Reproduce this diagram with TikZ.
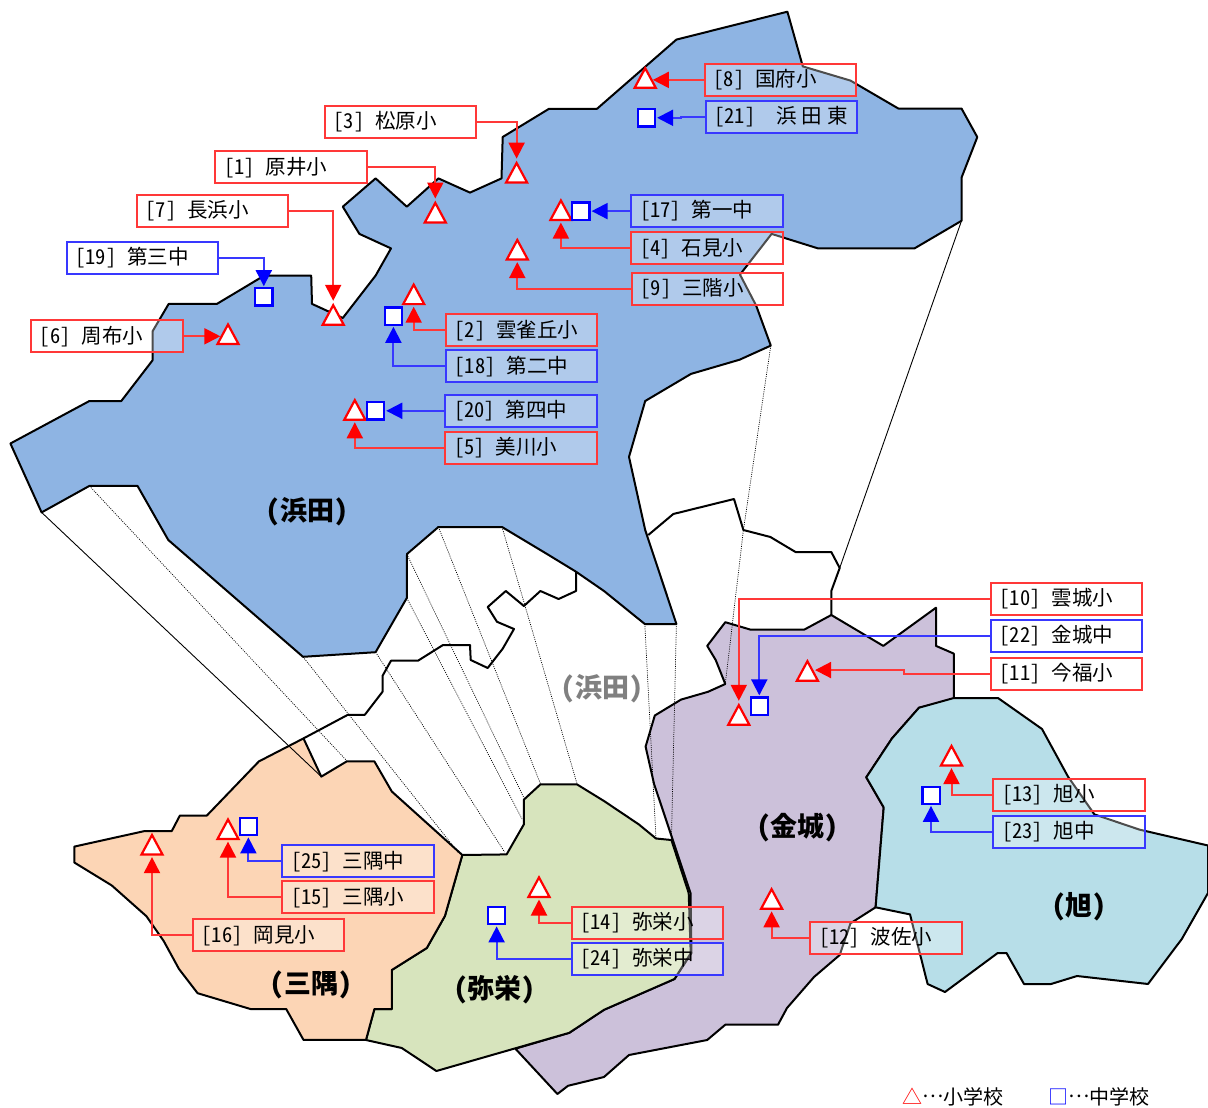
\documentclass[tikz,border=0pt]{standalone}
\usepackage{fontspec}
\setmainfont{Noto Sans CJK JP}[RawFeature=+hwid]
\usetikzlibrary{arrows.meta,shapes.geometric}
\definecolor{cblue}{HTML}{8EB4E3}
\definecolor{cpurple}{HTML}{CCC1DA}
\definecolor{cgreen}{HTML}{D7E4BD}
\definecolor{cpeach}{HTML}{FCD5B5}
\definecolor{csky}{HTML}{B7DEE8}
\definecolor{lred}{HTML}{FF3838}
\definecolor{lblue}{HTML}{3838FF}
\tikzset{
  region/.style={draw=black,line width=2pt,line join=round},
  coast/.style={draw=black,line width=2pt,line join=round},
  thinline/.style={draw=black,line width=0.9pt},
  dotline/.style={draw=black,line width=0.7pt,dash pattern=on 1pt off 1.2pt},
  labbox/.style={anchor=north west,line width=2pt,fill=white,fill opacity=0.3,text opacity=1,draw opacity=1,
    text width=134pt,inner xsep=8.7pt,inner ysep=0pt,minimum height=31.8pt,align=left,
    font=\fontsize{20.5}{24}\selectfont,text=black},
  tri/.style={isosceles triangle,isosceles triangle stretches,shape border rotate=90,draw=red,fill=white,line width=2.2pt,
    minimum width=21pt,minimum height=19.5pt,inner sep=0pt,anchor=lower side},
  sq/.style={rectangle,draw=blue,fill=white,line width=2.2pt,minimum width=17.2pt,minimum height=17.2pt,inner sep=0pt},
  rc/.style={draw=lred,line width=2pt,-{Triangle[width=16pt,length=16pt,color=red]},shorten >=1.5pt},
  bc/.style={draw=lblue,line width=2pt,-{Triangle[width=16pt,length=16pt,color=blue]},shorten >=1pt},
  areaname/.style={font=\fontsize{27}{32}\selectfont\bfseries,text=black,inner sep=0pt},
  legendtext/.style={font=\fontsize{20}{24}\selectfont,inner sep=0pt,anchor=west,text=black}
}
\newcommand{\lab}[6]{\node[labbox,draw=#1,xshift=-0.7pt,yshift=0.6pt] (#2) at (#3,#4) {\raisebox{-4.4pt}{#5\hspace*{11pt}#6}};}
\begin{document}
\begin{tikzpicture}[x=1pt,y=-1pt]
\useasboundingbox (0,0) rectangle (1208,1108);
% regions
\path[region,fill=cpurple] (725.3,622.2)--(750.4,629.6)--(804.3,629.6)--(831.3,615)--(883.3,645.9)--(936,607.7)--(936,645.9)--(953.8,653.6)--(953.8,699.6)--(919,707.7)--(892,738.4)--(866.3,777.3)--(883.7,807.4)--(875.6,907.3)--(850.5,923.3)--(839.7,955)--(814,977)--(787,1008)--(778,1024.7)--(725.3,1024.7)--(707.2,1040)--(629,1055)--(604,1077)--(568,1085.8)--(557.4,1094)--(515.4,1048.7)--(569.3,1032.8)--(604,1009.8)--(674.5,979)--(691.5,953)--(690.5,893)--(672.8,840)--(654,783.7)--(645.6,746.6)--(654.8,715.5)--(681,699.6)--(708,691.8)--(725.3,684)--(715.7,660)--(707.2,645.9)--cycle;
\path[region,fill=csky] (953.8,698)--(998,698)--(1042,729)--(1068,776.6)--(1094.4,814.4)--(1139.4,829.6)--(1208,845.5)--(1208,893)--(1181.8,939)--(1148,984)--(1077,976)--(1051,984)--(1024,984)--(1006.5,953)--(997.7,953)--(945,992)--(927.6,984)--(910,914.4)--(875.6,907.3)--(883.7,807.4)--(866.3,777.3)--(892,738.4)--(919,707.7)--cycle;
\path[region,fill=cgreen] (462.3,855)--(506.6,854.4)--(523.9,824.3)--(523.9,799.6)--(540.4,784.4)--(577,784.4)--(604,801)--(638.7,824.3)--(656,838.5)--(671.4,840)--(688.7,893)--(690.7,953.3)--(674.5,979)--(604,1009.8)--(569.3,1032.8)--(436.4,1071)--(401.8,1048)--(366,1040)--(374.4,1009)--(391.8,1009)--(391.8,970)--(426.8,948)--(444.9,916)--cycle;
\path[region,fill=cpeach] (303.5,738.4)--(258.9,761.4)--(206.9,815.5)--(179.9,815.5)--(171.8,831)--(144.8,831)--(74.3,846.6)--(74.3,862.5)--(111.7,885.4)--(146.4,916.2)--(163.7,941)--(179,969)--(197.6,993.2)--(250.4,1009)--(286.2,1009)--(303.5,1039.9)--(366,1039.9)--(374.4,1009)--(391.8,1009)--(391.8,970)--(426.8,948)--(444.9,916)--(462.3,855)--(391.8,791.5)--(374.4,761.4)--(346.7,761.4)--(321.3,776.6)--cycle;
\path[region,fill=cblue] (787.4,11.7)--(802.8,66.4)--(850.5,80.6)--(898.3,108.5)--(961.5,108.5)--(977.3,137.1)--(961.5,177.7)--(961.5,220.8)--(914.5,248.4)--(818,248.4)--(771.6,233.9)--(740,274.6)--(756.2,305.7)--(770.8,345.6)--(739.6,359.7)--(691,373.9)--(645.2,401)--(629,456.9)--(645.2,530)--(676.4,624)--(644.8,624)--(604,591)--(576,571.7)--(547,554)--(502,527)--(438.4,527)--(407,554)--(406.8,598)--(375.6,652.2)--(303,656.8)--(168.3,540)--(137.5,485.9)--(89.4,485.9)--(41.6,512.4)--(10.4,443.5)--(89.4,401)--(121.3,401)--(152.5,360.4)--(152.5,331.4)--(168.7,303.9)--(216.9,303.9)--(264.2,275.6)--(311.2,275.6)--(312,303.9)--(342.8,318)--(375.6,275.6)--(391,248.4)--(359.4,233.9)--(342.8,206.7)--(375.6,178.4)--(406.8,206.7)--(438.4,178.4)--(470,192.6)--(501.5,178.4)--(502.7,137)--(549,108.8)--(597,108.8)--(676.4,39.6)--cycle;
% inner coastlines
\draw[coast] (576,571.7)--(576,591)--(558.6,599)--(540.4,591)--(523.9,606)--(505.8,591)--(487.7,607)--(497,621.8)--(514,629)--(502.7,648.7)--(487.7,668)--(470.7,660)--(470,645)--(443,645)--(418,660.7)--(391,660.7)--(382.5,675.9)--(382.5,691.8)--(364.8,714.8)--(347.8,714.8)--(303.5,738.4);
\draw[coast] (648.3,535)--(673.3,514)--(734,499)--(743.4,530)--(770.4,537)--(795.5,552)--(831.3,552)--(839.7,568)--(831.3,591)--(831.3,615);
% thin outlines
\draw[thinline] (41.6,512.4)--(321.3,776.6);
\draw[thinline] (961.5,220.8)--(839.7,568);
% dotted guide lines
\draw[dotline] (89.4,485.9)--(346.7,760.7);
\draw[dotline] (303,656.8)--(458.4,852.6);
\draw[dotline] (375.6,652.2)--(504.6,852);
\draw[dotline] (406.8,598)--(522,819);
\draw[dotline] (406.8,554)--(523.9,797.8);
\draw[dotline] (438.4,527)--(540.4,783.7);
\draw[dotline] (502,527)--(577,783.7);
\draw[dotline] (644.8,624)--(656,838.5);
\draw[dotline] (676.4,624)--(671.4,840);
\draw[dotline] (770.8,345.6)--(743.4,530)--(725.3,684);
% area names
\node[areaname] (nhamada) at (307,512) {(浜田)};
\node[areaname,text=black!50] (nhamadab) at (602,689) {(浜田)};
\node[areaname] (nkanagi) at (797.6,828) {(金城)};
\node[areaname] (nasahi) at (1079,906.5) {(旭)};
\node[areaname] (nmisumi) at (311,985) {(三隅)};
\node[areaname] (nyasaka) at (494.6,990) {(弥栄)};
% labels
\lab{lred}{l3}{324.7}{105.7}{[3]}{松原小}
\lab{lred}{l1}{215}{151}{[1]}{原井小}
\lab{lred}{l7}{136.7}{194.7}{[7]}{長浜小}
\lab{lblue}{l19}{66.3}{241.3}{[19]}{第三中}
\lab{lred}{l6}{30.8}{320}{[6]}{周布小}
\lab{lred}{l2}{445.7}{314}{[2]}{雲雀丘小}
\lab{lblue}{l18}{445.7}{350}{[18]}{第二中}
\lab{lblue}{l20}{445}{394.3}{[20]}{第四中}
\lab{lred}{l5}{445}{431.4}{[5]}{美川小}
\lab{lred}{l8}{704.5}{63.6}{[8]}{国府小}
\lab{lblue}{l21}{705.3}{100.4}{[21]}{\hspace*{10pt}浜\hspace{5pt}田\hspace{5pt}東}
\lab{lblue}{l17}{631}{194.7}{[17]}{第一中}
\lab{lred}{l4}{631}{232}{[4]}{石見小}
\lab{lred}{l9}{631.7}{272.8}{[9]}{三階小}
\lab{lblue}{l25}{282}{845}{[25]}{三隅中}
\lab{lred}{l15}{282}{881}{[15]}{三隅小}
\lab{lred}{l16}{192.6}{919}{[16]}{岡見小}
\lab{lred}{l14}{571.3}{906.3}{[14]}{弥栄小}
\lab{lblue}{l24}{571.3}{942.3}{[24]}{弥栄中}
\lab{lred}{l10}{990.7}{582.6}{[10]}{雲城小}
\lab{lblue}{l22}{990.7}{619.4}{[22]}{金城中}
\lab{lred}{l11}{990.7}{657.5}{[11]}{今福小}
\lab{lred}{l13}{993}{778.7}{[13]}{旭小}
\lab{lblue}{l23}{993}{815.5}{[23]}{旭中}
\lab{lred}{l12}{810}{921.5}{[12]}{波佐小}
% markers: elementary schools
\node[tri] (t1) at (435.3,223.5) {};
\node[tri] (t2) at (413.7,305.2) {};
\node[tri] (t3) at (516.6,183.6) {};
\node[tri] (t4) at (560.9,221.1) {};
\node[tri] (t5) at (354.8,420.8) {};
\node[tri] (t6) at (228,345.1) {};
\node[tri] (t7) at (333.2,325.8) {};
\node[tri] (t8) at (645.2,88.8) {};
\node[tri] (t9) at (517.3,260.6) {};
\node[tri] (t10) at (738.8,725.8) {};
\node[tri] (t11) at (807.4,681.8) {};
\node[tri] (t12) at (771.6,909.8) {};
\node[tri] (t13) at (951.5,766.6) {};
\node[tri] (t14) at (539,898) {};
\node[tri] (t15) at (228,840.1) {};
\node[tri] (t16) at (152,855.6) {};
% markers: junior high schools
\node[sq] (s17) at (580.9,211.1) {};
\node[sq] (s18) at (393.4,316.1) {};
\node[sq] (s19) at (263.8,296.9) {};
\node[sq] (s20) at (375.6,410.8) {};
\node[sq] (s21) at (646.4,117.8) {};
\node[sq] (s22) at (759.3,706.1) {};
\node[sq] (s23) at (931,795.2) {};
\node[sq] (s24) at (496.6,915.7) {};
\node[sq] (s25) at (248.4,826.7) {};
% connectors
\draw[rc] (l3.east) -| (t3.apex);
\draw[rc] (l1.east) -| (t1.apex);
\draw[rc] (l7.east) -| (t7.apex);
\draw[bc] (l19.east) -| (s19.north);
\draw[rc] (l6.east) -- (l6.east -| t6.left side);
\draw[rc] (l2.west) -| (t2.lower side);
\draw[bc] (l18.west) -| (s18.south);
\draw[bc] (l20.west) -- ++(-30,0) |- (s20.east);
\draw[rc] (l5.west) -| (t5.lower side);
\draw[rc] (l8.west) -- (l8.west -| t8.right side);
\draw[bc] (l21.west) -- ++(-24,0) |- (s21.east);
\draw[bc] (l17.west) -- ++(-21,0) |- (s17.east);
\draw[rc] (l4.west) -| (t4.lower side);
\draw[rc] (l9.west) -| (t9.lower side);
\draw[bc] (l25.west) -| (s25.south);
\draw[rc] (l15.west) -| (t15.lower side);
\draw[rc] (l16.west) -| (t16.lower side);
\draw[rc] (l14.west) -| (t14.lower side);
\draw[bc] (l24.west) -| (s24.south);
\draw[rc] (l10.west) -| (t10.apex);
\draw[bc] (l22.west) -| (s22.north);
\draw[rc] (l11.west) -- ++(-86,0) |- (t11.right side);
\draw[rc] (l13.west) -| (t13.lower side);
\draw[bc] (l23.west) -| (s23.south);
\draw[rc] (l12.west) -| (t12.lower side);
% legend
\node[legendtext] (legA) at (902,1096.5) {{\color{red}△}\raisebox{7pt}{…}小学校};
\node[legendtext] (legB) at (1048,1096.5) {{\color{blue}□}\raisebox{7pt}{…}中学校};
\end{tikzpicture}
\end{document}
